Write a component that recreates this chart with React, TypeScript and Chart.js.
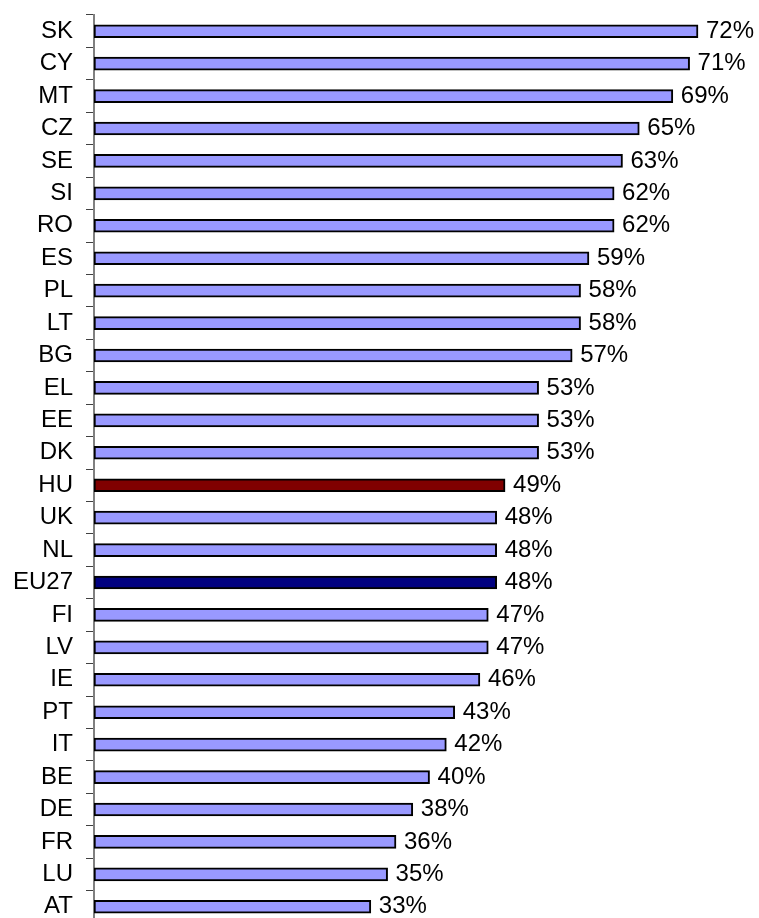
import React, { useEffect, useRef } from "react";
import { Chart, registerables } from "chart.js";

Chart.register(...registerables);

const categories = ["SK","CY","MT","CZ","SE","SI","RO","ES","PL","LT","BG","EL","EE","DK","HU","UK","NL","EU27","FI","LV","IE","PT","IT","BE","DE","FR","LU","AT"];
const values = [72,71,69,65,63,62,62,59,58,58,57,53,53,53,49,48,48,48,47,47,46,43,42,40,38,36,35,33];
const highlightColors: Record<string, string> = { HU: "#800000", EU27: "#000080" };
const baseColor = "#9999FF";

const FONT = "'Liberation Sans', Arial, sans-serif";

const valueLabels = {
  id: "valueLabels",
  afterDatasetsDraw(chart: any) {
    const ctx = chart.ctx;
    const meta = chart.getDatasetMeta(0);
    ctx.save();
    ctx.font = `24px ${FONT}`;
    ctx.fillStyle = "#000";
    ctx.textAlign = "left";
    ctx.textBaseline = "middle";
    meta.data.forEach((bar: any, i: number) => {
      ctx.fillText(values[i] + "%", bar.x + 8, bar.y);
    });
    ctx.restore();
  },
};

export default function App() {
  const ref = useRef<HTMLCanvasElement>(null);
  useEffect(() => {
    const chart = new Chart(ref.current!, {
      type: "bar",
      data: {
        labels: categories,
        datasets: [
          {
            data: values,
            backgroundColor: categories.map((c) => highlightColors[c] || baseColor),
            borderColor: "#000",
            borderWidth: 2,
            borderSkipped: false,
            barThickness: 13,
          },
        ],
      },
      options: {
        indexAxis: "y",
        animation: false,
        responsive: false,
        maintainAspectRatio: false,
        layout: { padding: { top: 15, bottom: 7, left: 0, right: 0 } },
        plugins: { legend: { display: false }, tooltip: { enabled: false } },
        scales: {
          x: { display: false, min: 0, max: 79.27 },
          y: {
            afterFit(scale: any) {
              scale.width = 94;
              scale.paddingTop = 0;
              scale.paddingBottom = 0;
            },
            border: { display: true, color: "#808080", width: 2 },
            grid: {
              display: true,
              drawOnChartArea: false,
              drawTicks: true,
              tickLength: 8,
              color: "#404040",
              offset: true,
            },
            ticks: {
              color: "#000",
              padding: 13,
              font: { family: FONT, size: 24 },
              autoSkip: false,
            },
          },
        },
      },
      plugins: [valueLabels],
    } as any);
    return () => chart.destroy();
  }, []);
  return (
    <div style={{ position: "fixed", left: 0, top: 0, width: 759, height: 930, overflow: "hidden", background: "#fff" }}>
      <canvas ref={ref} width={759} height={930} style={{ width: 759, height: 930, display: "block" }} />
    </div>
  );
}
